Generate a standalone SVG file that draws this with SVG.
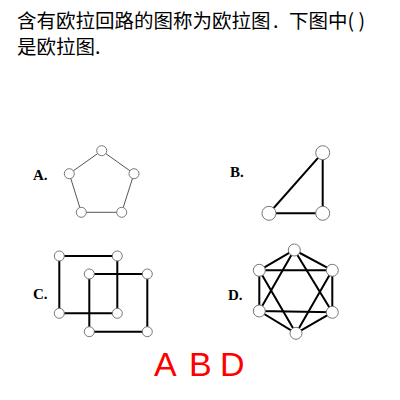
<svg xmlns="http://www.w3.org/2000/svg" width="400" height="400" viewBox="0 0 400 400">
<style>
.t{font-family:"Noto Sans CJK SC","Noto Sans",sans-serif;font-size:19.5px;fill:#000}
.lb{font-family:"Liberation Serif",serif;font-size:15px;font-weight:bold;fill:#000}
.thin{stroke:#555;stroke-width:1;fill:none}
.thick{stroke:#000;stroke-width:2;fill:none}
.n{fill:#fff;stroke:#777;stroke-width:1}
.ans{font-family:"Liberation Sans",Arial,sans-serif;font-size:34px;fill:#f00}
</style>
<rect width="400" height="400" fill="#fff"/>
<g id="title">
<text class="t" x="17" y="27.8">含有欧拉回路的图称为欧拉图<tspan x="273">.</tspan><tspan x="289">下图中</tspan><tspan x="347.5">( )</tspan></text>
<text class="t" x="17" y="53.8">是欧拉图.</text>
</g>
<g id="connectors">
<polygon class="thin" points="101.7,150.7 134,173.7 121.7,212.3 81.3,212.3 69.3,173.7"/>
<polygon class="thick" points="322.7,152.7 322.7,213.3 269,213.3"/>
<polygon class="thick" points="59.3,256 117.3,256 117.3,313.3 59.3,313.3"/>
<polygon class="thick" points="89.3,274 147.3,274 147.3,331.7 89.3,331.7"/>
<polygon class="thick" points="294.3,250 332.3,270.3 332.3,312.3 296,333.3 259.3,311 259.3,270.3"/>
<polygon class="thick" points="294.3,250 332.3,312.3 259.3,311"/>
<polygon class="thick" points="296,333.3 259.3,270.3 332.3,270.3"/>
</g>
<g id="graphA">
<text class="lb" x="33" y="180">A.</text>
<circle class="n" cx="101.7" cy="150.7" r="5"/>
<circle class="n" cx="134" cy="173.7" r="5"/>
<circle class="n" cx="121.7" cy="212.3" r="5"/>
<circle class="n" cx="81.3" cy="212.3" r="5"/>
<circle class="n" cx="69.3" cy="173.7" r="5"/>
</g>
<g id="graphB">
<text class="lb" x="230" y="177" font-weight="normal">B.</text>
<circle class="n" cx="322.7" cy="152.7" r="7"/>
<circle class="n" cx="322.7" cy="213.3" r="7"/>
<circle class="n" cx="269" cy="213.3" r="7"/>
</g>
<g id="graphC">
<text class="lb" x="33" y="299">C.</text>
<circle class="n" cx="59.3" cy="256" r="5"/>
<circle class="n" cx="117.3" cy="256" r="5"/>
<circle class="n" cx="89.3" cy="274" r="5"/>
<circle class="n" cx="147.3" cy="274" r="5"/>
<circle class="n" cx="59.3" cy="313.3" r="5"/>
<circle class="n" cx="117.3" cy="313.3" r="5"/>
<circle class="n" cx="89.3" cy="331.7" r="5"/>
<circle class="n" cx="147.3" cy="331.7" r="5"/>
</g>
<g id="graphD">
<text class="lb" x="228" y="300">D.</text>
<circle class="n" cx="294.3" cy="250" r="6"/>
<circle class="n" cx="332.3" cy="270.3" r="6"/>
<circle class="n" cx="332.3" cy="312.3" r="6"/>
<circle class="n" cx="296" cy="333.3" r="6"/>
<circle class="n" cx="259.3" cy="311" r="6"/>
<circle class="n" cx="259.3" cy="270.3" r="6"/>
</g>
<g id="answer">
<text class="ans" y="376"><tspan x="154">A</tspan><tspan x="189">B</tspan><tspan x="220">D</tspan></text>
</g>
</svg>
